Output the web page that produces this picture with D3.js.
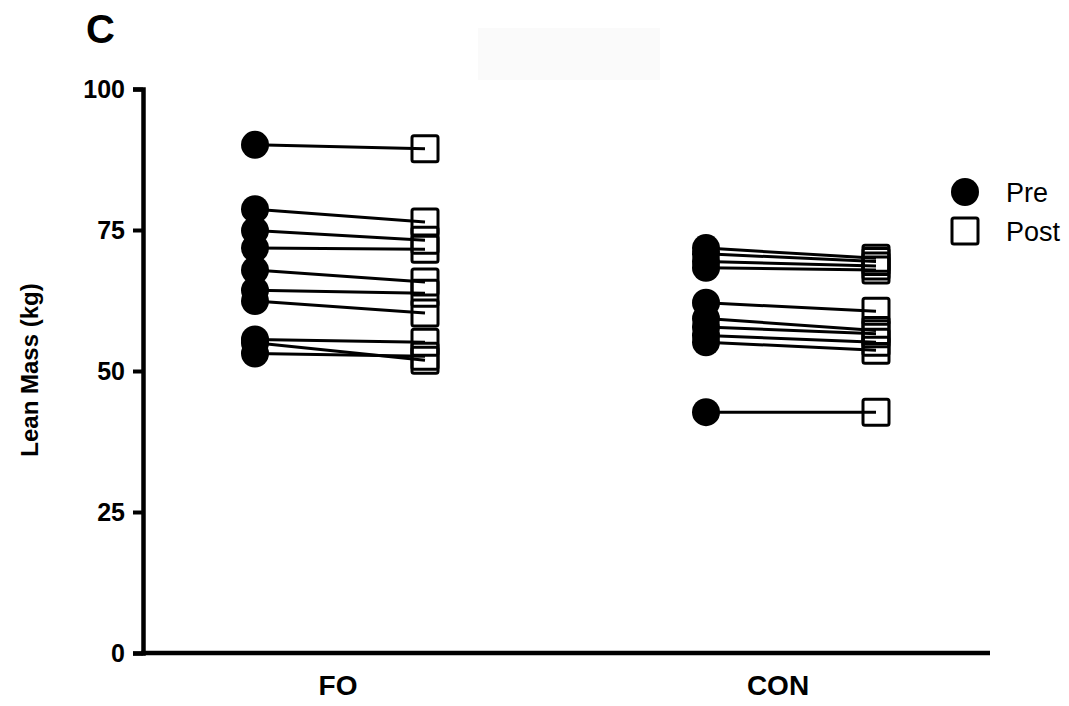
<!DOCTYPE html>
<html>
<head>
<meta charset="utf-8">
<script src="https://cdn.jsdelivr.net/npm/d3@7"></script>
<style>
  body { margin: 0; background: #fff; }
  text { font-family: "Liberation Sans", Arial, sans-serif; }
</style>
</head>
<body>
<div id="chart"></div>
<script>
// Data

var groups = ["FO", "CON"];
var foPre  = [90.1, 78.7, 74.9, 71.8, 67.9, 64.3, 62.4, 55.6, 55.0, 53.1];
var foPost = [89.4, 76.4, 73.2, 71.6, 65.8, 63.8, 60.3, 55.1, 51.9, 52.6];
var conPre  = [71.8, 70.8, 69.4, 68.3, 62.1, 59.3, 57.8, 56.3, 55.1, 42.7];
var conPost = [70.0, 69.4, 68.6, 67.9, 60.6, 57.2, 56.6, 55.1, 53.7, 42.7];
var yTicks = [0, 25, 50, 75, 100];

var width = 1069;
var height = 706;

var svg = d3.select("#chart")
  .append("svg")
  .attr("width", width)
  .attr("height", height);

// faint box near the top of the original figure
svg.append("rect")
  .attr("x", 478).attr("y", 28)
  .attr("width", 182).attr("height", 52)
  .attr("fill", "#fafafa");

// Scales

var yScale = d3.scaleLinear()
  .domain([0, 100])
  .range([653, 89]);

var xScale = d3.scalePoint()
  .domain(groups)
  .range([339, 790]);

var offset = {pre: -84, post: 86};

// Axes

var yAxis = svg.append("g")
  .attr("transform", "translate(143, 0)")
  .call(d3.axisLeft(yScale).tickValues(yTicks).tickSize(10).tickPadding(8));

yAxis.select(".domain").attr("stroke-width", 4.5);
yAxis.selectAll(".tick line").attr("stroke-width", 4);
yAxis.selectAll(".tick text")
  .attr("font-size", 25)
  .attr("font-weight", "bold")
  .attr("fill", "#000")
  .style("font-family", "'Liberation Sans', Arial, sans-serif");

svg.append("line")
  .attr("x1", 141).attr("x2", 990)
  .attr("y1", yScale(0)).attr("y2", yScale(0))
  .attr("stroke", "#000")
  .attr("stroke-width", 4.5);

svg.selectAll(".groupLabel")
  .data(groups)
  .enter().append("text")
  .attr("class", "groupLabel")
  .attr("x", d => xScale(d) + (d === "CON" ? -12 : -1))
  .attr("y", 695)
  .attr("text-anchor", "middle")
  .attr("font-size", 28)
  .attr("font-weight", "bold")
  .text(d => d);

// Labels

svg.append("text")
  .attr("transform", "rotate(-90)")
  .attr("x", -370)
  .attr("y", 38)
  .attr("text-anchor", "middle")
  .attr("font-size", 24)
  .attr("font-weight", "bold")
  .text("Lean Mass (kg)");

svg.append("text")
  .attr("x", 86)
  .attr("y", 43)
  .attr("font-size", 40)
  .attr("font-weight", "bold")
  .text("C");

// Draw data

var pairs = [];
foPre.forEach((v, i) => pairs.push({group: "FO", pre: v, post: foPost[i]}));
conPre.forEach((v, i) => pairs.push({group: "CON", pre: v, post: conPost[i]}));

var sq = 26;

svg.selectAll(".pairLine")
  .data(pairs)
  .enter().append("line")
  .attr("class", "pairLine")
  .attr("x1", d => xScale(d.group) + offset.pre)
  .attr("x2", d => xScale(d.group) + offset.post)
  .attr("y1", d => yScale(d.pre))
  .attr("y2", d => yScale(d.post))
  .attr("stroke", "#000")
  .attr("stroke-width", 3);

svg.selectAll(".preDot")
  .data(pairs)
  .enter().append("circle")
  .attr("class", "preDot")
  .attr("cx", d => xScale(d.group) + offset.pre)
  .attr("cy", d => yScale(d.pre))
  .attr("r", 14)
  .attr("fill", "#000");

svg.selectAll(".postSq")
  .data(pairs)
  .enter().append("rect")
  .attr("class", "postSq")
  .attr("x", d => xScale(d.group) + offset.post - sq / 2)
  .attr("y", d => yScale(d.post) - sq / 2)
  .attr("width", sq)
  .attr("height", sq)
  .attr("rx", 2)
  .attr("fill", "none")
  .attr("stroke", "#000")
  .attr("stroke-width", 3);

// Legend

svg.append("circle")
  .attr("cx", 965).attr("cy", 192)
  .attr("r", 14)
  .attr("fill", "#000");

svg.append("rect")
  .attr("x", 965 - sq / 2).attr("y", 231 - sq / 2)
  .attr("width", sq).attr("height", sq)
  .attr("rx", 2)
  .attr("fill", "none")
  .attr("stroke", "#000")
  .attr("stroke-width", 3);

svg.append("text").text("Pre")
  .attr("x", 1006).attr("y", 202)
  .attr("font-size", 27);

svg.append("text").text("Post")
  .attr("x", 1006).attr("y", 241)
  .attr("font-size", 27);
</script>
</body>
</html>
